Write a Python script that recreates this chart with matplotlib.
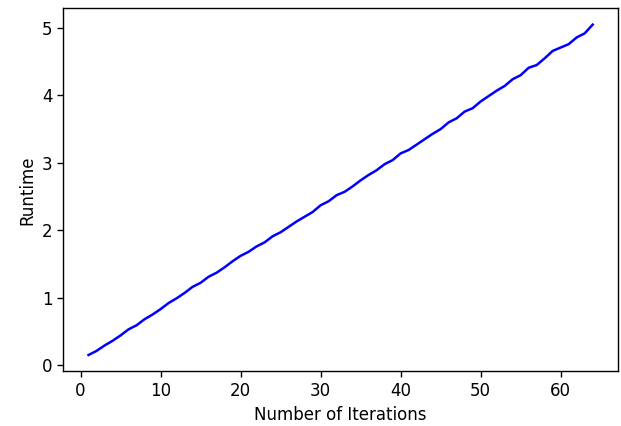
import numpy as np
import matplotlib
matplotlib.use('Agg')
import matplotlib.pyplot as plt

# runtime per number of iterations
iterations = list(range(1, 65))
runtime = [0.15, 0.21, 0.29, 0.36, 0.44, 0.53, 0.59, 0.68, 0.75, 0.83,
           0.92, 0.99, 1.07, 1.16, 1.22, 1.31, 1.37, 1.45, 1.54, 1.62,
           1.68, 1.76, 1.82, 1.91, 1.97, 2.05, 2.13, 2.20, 2.27, 2.37,
           2.43, 2.52, 2.57, 2.65, 2.74, 2.82, 2.89, 2.98, 3.04, 3.14,
           3.19, 3.27, 3.35, 3.43, 3.50, 3.60, 3.66, 3.76, 3.81, 3.91,
           3.99, 4.07, 4.14, 4.24, 4.30, 4.41, 4.45, 4.55, 4.66, 4.71,
           4.76, 4.86, 4.92, 5.05]

plt.rcParams['font.size'] = 12
plt.rcParams['axes.linewidth'] = 1.0
plt.rcParams['xtick.major.size'] = 4.2
plt.rcParams['ytick.major.size'] = 4.2
plt.rcParams['xtick.major.width'] = 1.0
plt.rcParams['ytick.major.width'] = 1.0

fig = plt.figure(figsize=(6.21, 4.26), dpi=100)
fig.subplots_adjust(left=0.102, right=0.995, top=0.981, bottom=0.128)

plt.plot(iterations, runtime, 'b', linewidth=1.8)
plt.xlabel('Number of Iterations')
plt.ylabel('Runtime')

plt.savefig('out.png')
